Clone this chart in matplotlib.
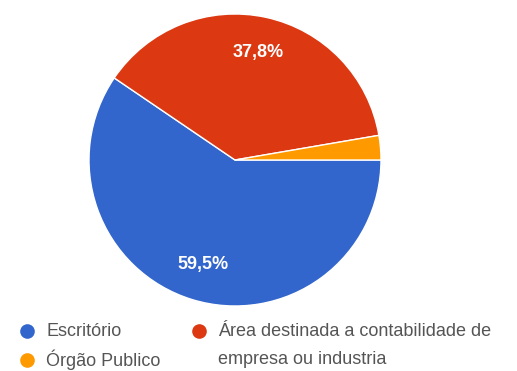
import matplotlib
matplotlib.use("Agg")
import matplotlib.pyplot as plt

# Response shares (%)
categories = ["Escritório", "Área destinada a contabilidade de\nempresa ou industria", "Órgão Publico"]
values = [59.5, 37.8, 2.7]
colors = ["#3366cc", "#dc3912", "#ff9900"]

W, H = 517, 371
fig = plt.figure(figsize=(W / 100, H / 100), dpi=100)
fig.patch.set_facecolor("white")

cx, cy, r = 235, 160, 146
ax = fig.add_axes([(cx - r) / W, (H - cy - r) / H, 2 * r / W, 2 * r / H])


def fmt(pct):
    return f"{pct:.1f}".replace(".", ",") + "%" if pct >= 5 else ""


wedges, texts, autotexts = ax.pie(
    values, colors=colors, startangle=0, counterclock=False,
    autopct=fmt, pctdistance=0.75,
    wedgeprops=dict(edgecolor="white", linewidth=1),
    textprops=dict(color="white", fontsize=13, fontweight="bold",
                   family="Liberation Sans"),
)
ax.set_aspect("equal")
ax.set_xlim(-1, 1)
ax.set_ylim(-1, 1)
ax.axis("off")

# Legend laid out in pixel coordinates
lg = fig.add_axes([0, 0, 1, 1])
lg.set_xlim(0, W)
lg.set_ylim(H, 0)
lg.axis("off")

row_y = [331, 360]
legend_pos = [(27, row_y[0]), (199, row_y[0]), (27, row_y[1])]
for (x, y), label, c in zip(legend_pos, categories, colors):
    lg.plot(x, y, "o", color=c, markersize=9.5)
    for i, ln in enumerate(label.split("\n")):
        lg.text(x + 19, row_y[i] if "\n" in label else y, ln, fontsize=13,
                color="#555555", family="Liberation Sans", va="center")

fig.savefig("out.png", dpi=100, facecolor="white")
